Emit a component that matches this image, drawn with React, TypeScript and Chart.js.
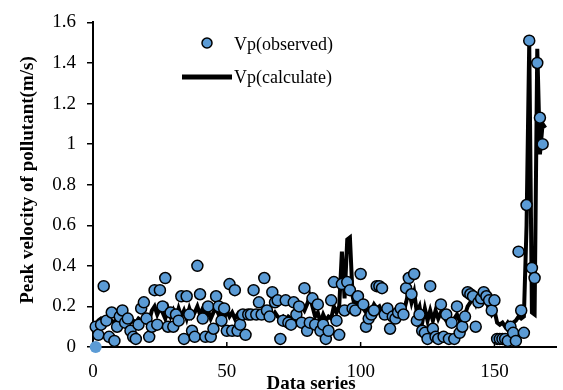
import React, { useEffect, useRef } from "react";
import { Chart, registerables } from "chart.js";

Chart.register(...registerables);

// Series index starts at 1
const observed = [
  0.10, 0.06, 0.11, 0.30, 0.13, 0.05, 0.17, 0.03, 0.10, 0.15,
  0.18, 0.12, 0.14, 0.08, 0.05, 0.04, 0.11, 0.19, 0.22, 0.14,
  0.05, 0.10, 0.28, 0.11, 0.28, 0.20, 0.34, 0.10, 0.17, 0.10,
  0.16, 0.13, 0.25, 0.04, 0.25, 0.16, 0.08, 0.05, 0.40, 0.26,
  0.14, 0.05, 0.20, 0.05, 0.09, 0.25, 0.20, 0.13, 0.19, 0.08,
  0.31, 0.08, 0.28, 0.08, 0.11, 0.16, 0.06, 0.16, 0.16, 0.28,
  0.16, 0.22, 0.16, 0.34, 0.18, 0.15, 0.27, 0.22, 0.23, 0.04,
  0.13, 0.23, 0.12, 0.11, 0.22, 0.16, 0.20, 0.12, 0.29, 0.08,
  0.12, 0.24, 0.11, 0.21, 0.08, 0.11, 0.04, 0.08, 0.23, 0.32,
  0.13, 0.06, 0.31, 0.18, 0.32, 0.28, 0.19, 0.18, 0.25, 0.36,
  0.21, 0.10, 0.14, 0.16, 0.18, 0.30, 0.30, 0.29, 0.16, 0.19,
  0.09, 0.15, 0.14, 0.17, 0.19, 0.16, 0.29, 0.34, 0.26, 0.36,
  0.13, 0.16, 0.08, 0.07, 0.04, 0.30, 0.09, 0.05, 0.04, 0.21,
  0.05, 0.16, 0.04, 0.12, 0.04, 0.20, 0.07, 0.10, 0.15, 0.27,
  0.26, 0.25, 0.10, 0.22, 0.24, 0.27, 0.25, 0.23, 0.18, 0.23,
  0.04, 0.04, 0.04, 0.04, 0.03, 0.10, 0.07, 0.03, 0.47, 0.18,
  0.07, 0.70, 1.51, 0.39, 0.34, 1.40, 1.13, 1.00,
];

const calculated = [
  0.10, 0.13, 0.14, 0.13, 0.12, 0.14, 0.13, 0.12, 0.14, 0.13,
  0.15, 0.14, 0.13, 0.12, 0.13, 0.12, 0.14, 0.13, 0.14, 0.12,
  0.13, 0.18, 0.20, 0.16, 0.19, 0.17, 0.14, 0.19, 0.15, 0.18,
  0.14, 0.19, 0.15, 0.18, 0.14, 0.19, 0.15, 0.17, 0.20, 0.16,
  0.19, 0.15, 0.18, 0.14, 0.17, 0.19, 0.16, 0.17, 0.14, 0.18,
  0.15, 0.17, 0.14, 0.16, 0.13, 0.16, 0.17, 0.16, 0.16, 0.16,
  0.16, 0.16, 0.17, 0.16, 0.15, 0.16, 0.15, 0.17, 0.15, 0.14,
  0.15, 0.13, 0.15, 0.14, 0.13, 0.15, 0.17, 0.20, 0.18, 0.21,
  0.25, 0.20, 0.15, 0.17, 0.12, 0.16, 0.13, 0.15, 0.14, 0.20,
  0.17, 0.20, 0.47, 0.24, 0.53, 0.54, 0.25, 0.19, 0.23, 0.20,
  0.19, 0.17, 0.19, 0.18, 0.21, 0.19, 0.20, 0.17, 0.19, 0.16,
  0.18, 0.15, 0.17, 0.16, 0.18, 0.17, 0.22, 0.28, 0.22, 0.27,
  0.17, 0.20, 0.12, 0.19, 0.13, 0.18, 0.13, 0.18, 0.14, 0.17,
  0.15, 0.13, 0.14, 0.13, 0.14, 0.16, 0.13, 0.12, 0.16, 0.20,
  0.22, 0.24, 0.21, 0.25, 0.27, 0.26, 0.22, 0.19, 0.16, 0.18,
  0.12, 0.11, 0.12, 0.10, 0.12, 0.10, 0.12, 0.13, 0.15, 0.14,
  0.15, 0.60, 1.50, 0.17, 0.16, 1.47, 0.95, 1.10, 1.08,
];

const originX = [1];
const originY = [0];

const xTicks = [0, 50, 100, 150];
const yTicks = [0, 0.2, 0.4, 0.6, 0.8, 1, 1.2, 1.4, 1.6];
const legendLabels = ["Vp(observed)", "Vp(calculate)"];
const xTitle = "Data series";
const yTitle = "Peak velocity of pollutant(m/s)";

const BLUE = "#5B9BD5";
const SERIF = "'Liberation Serif', 'Times New Roman', serif";

export default function App() {
  const ref = useRef<HTMLCanvasElement>(null);

  useEffect(() => {
    document.body.style.margin = "0";
    const canvas = ref.current;
    if (!canvas) return;

    const overlay = {
      id: "overlay",
      afterDraw(chart: any) {
        const c = chart.ctx;
        const xs = chart.scales.x;
        const area = chart.chartArea;
        c.save();
        // inward x ticks
        c.strokeStyle = "#000";
        c.lineWidth = 1.5;
        xTicks.forEach((t) => {
          if (t === 0) return;
          const px = xs.getPixelForValue(t);
          c.beginPath();
          c.moveTo(px, area.bottom);
          c.lineTo(px, area.bottom - 5);
          c.stroke();
        });
        // legend
        c.fillStyle = BLUE;
        c.strokeStyle = "#000";
        c.lineWidth = 1.5;
        c.beginPath();
        c.arc(207, 43, 5, 0, Math.PI * 2);
        c.fill();
        c.stroke();
        c.lineWidth = 5;
        c.beginPath();
        c.moveTo(182, 77);
        c.lineTo(232, 77);
        c.stroke();
        c.fillStyle = "#000";
        c.font = `18px ${SERIF}`;
        c.textAlign = "left";
        c.textBaseline = "middle";
        c.fillText(legendLabels[0], 234, 45);
        c.fillText(legendLabels[1], 234, 78);
        // axis titles
        c.font = `bold 19px ${SERIF}`;
        c.textAlign = "center";
        c.fillText(xTitle, 311, 384);
        c.translate(28, 180);
        c.rotate(-Math.PI / 2);
        c.fillText(yTitle, 0, 0);
        c.restore();
      },
    };

    const chart = new Chart(canvas, {
      type: "scatter",
      data: {
        datasets: [
          {
            label: "origin",
            data: originX.map((x, i) => ({ x, y: originY[i] })),
            backgroundColor: BLUE,
            borderWidth: 0,
            pointRadius: 6,
            clip: false as any,
            order: 0,
          },
          {
            label: legendLabels[0],
            data: observed.map((y, i) => ({ x: i + 1, y })),
            backgroundColor: BLUE,
            borderColor: "#000",
            borderWidth: 1.5,
            pointRadius: 5.5,
            clip: false as any,
            order: 1,
          },
          {
            type: "line" as any,
            label: legendLabels[1],
            data: calculated.map((y, i) => ({ x: i + 1, y })),
            borderColor: "#000",
            backgroundColor: "#000",
            borderWidth: 4,
            pointRadius: 0,
            showLine: true,
            tension: 0,
            order: 2,
          } as any,
        ],
      },
      options: {
        responsive: false,
        animation: false,
        layout: { padding: { top: 20, right: 3, left: 0, bottom: 0 } },
        plugins: { legend: { display: false }, tooltip: { enabled: false } },
        scales: {
          x: {
            type: "linear",
            min: 0,
            max: 173,
            afterBuildTicks: (s: any) => {
              s.ticks = xTicks.map((v) => ({ value: v }));
            },
            afterFit: (s: any) => {
              s.height = 43;
            },
            grid: { display: false, drawTicks: false },
            border: { display: true, color: "#000", width: 2 },
            ticks: {
              color: "#000",
              font: { family: SERIF, size: 19 },
              padding: 14,
              maxRotation: 0,
              callback: (v: any) => String(v),
            },
          },
          y: {
            type: "linear",
            min: 0,
            max: 1.6,
            afterBuildTicks: (s: any) => {
              s.ticks = yTicks.map((v) => ({ value: v }));
            },
            afterFit: (s: any) => {
              s.width = 93;
            },
            grid: {
              display: true,
              drawOnChartArea: false,
              drawTicks: true,
              tickLength: 6,
              color: "#000",
              lineWidth: 1.5,
            },
            border: { display: true, color: "#000", width: 2 },
            ticks: {
              color: "#000",
              font: { family: SERIF, size: 19 },
              padding: 11,
              callback: (v: any) => String(v),
            },
          },
        },
      },
      plugins: [overlay],
    });

    return () => chart.destroy();
  }, []);

  return (
    <div style={{ position: "absolute", left: 0, top: 0, width: 563, height: 390 }}>
      <canvas ref={ref} width={563} height={390} style={{ width: 563, height: 390 }} />
    </div>
  );
}
